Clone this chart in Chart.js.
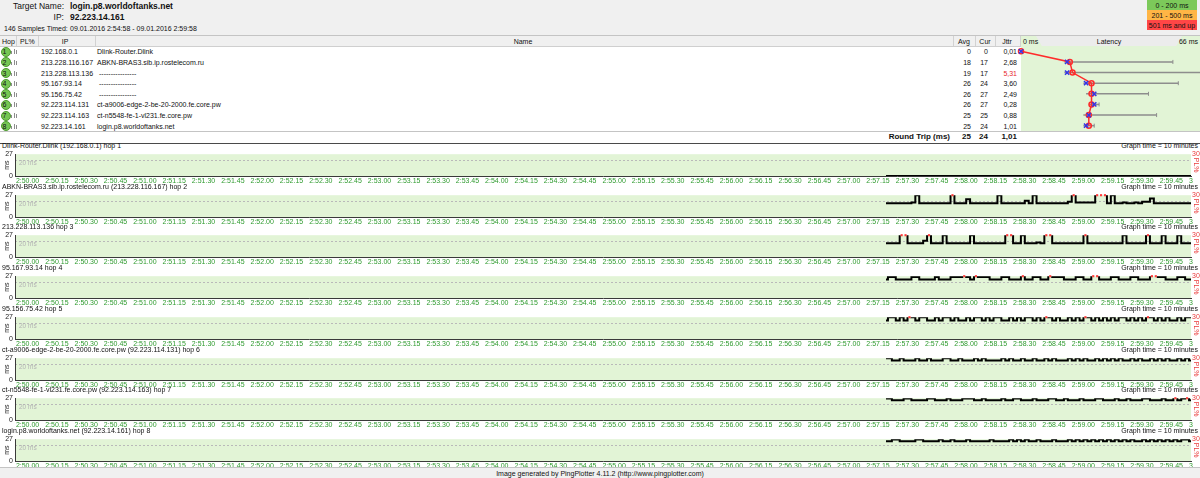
<!DOCTYPE html>
<html>
<head>
<meta charset="utf-8">
<title>PingPlotter - login.p8.worldoftanks.net</title>
<script src="https://cdn.jsdelivr.net/npm/chart.js@4.4.1/dist/chart.umd.min.js"></script>
<style>
  body { margin: 0; background: #fff; font-family: "Liberation Sans", Arial, sans-serif; color: #111; }
  #page { position: relative; width: 1200px; height: 478px; overflow: hidden; background: #fff; }
  .t { position: absolute; white-space: nowrap; line-height: 1; }
  .box { position: absolute; }
  canvas { position: absolute; }
</style>
</head>
<body>
<div id="page"></div>
<script>
// trace table
const hopNums = [1, 2, 3, 4, 5, 6, 7, 8];
const ips = ['192.168.0.1', '213.228.116.167', '213.228.113.136', '95.167.93.14', '95.156.75.42', '92.223.114.131', '92.223.114.163', '92.223.14.161'];
const names = ['Dlink-Router.Dlink', 'ABKN-BRAS3.sib.ip.rostelecom.ru', '----------------', '----------------', '----------------', 'ct-a9006-edge-2-be-20-2000.fe.core.pw', 'ct-n5548-fe-1-vl231.fe.core.pw', 'login.p8.worldoftanks.net'];
const avgMs = [0, 18, 19, 26, 26, 26, 25, 25];
const curMs = [0, 17, 17, 24, 27, 27, 25, 24];
const jitterMs = ['0,01', '2,68', '5,31', '3,60', '2,49', '0,28', '0,88', '1,01'];
const minMs = [0, 16, 16, 23, 24, 25, 23, 23];
const maxMs = [0, 56, 70, 58, 47, 28.8, 50, 27];
const roundTrip = ['25', '24', '1,01'];

// time graphs: one sample every 2 s, starting 443 s after 2:50:00
const sampleStart = 443;
const sampleStep = 2;
const tickStep = 15;
const xTickLabels = ['2:50.00','2:50.15','2:50.30','2:50.45','2:51.00','2:51.15','2:51.30','2:51.45','2:52.00','2:52.15',
  '2:52.30','2:52.45','2:53.00','2:53.15','2:53.30','2:53.45','2:54.00','2:54.15','2:54.30','2:54.45',
  '2:55.00','2:55.15','2:55.30','2:55.45','2:56.00','2:56.15','2:56.30','2:56.45','2:57.00','2:57.15',
  '2:57.30','2:57.45','2:58.00','2:58.15','2:58.30','2:58.45','2:59.00','2:59.15','2:59.30','2:59.45','3'];

const hop1Ms = [0,0,0,0,0,0,0,0,0,0, 0,0,0,0,0,0,0,0,0,0, 0,0,0,0,0,0,0,0,0,0, 0,0,0,0,0,0,0,0,0,0,
  0,0,0,0,0,0,0,0,0,0, 0,0,0,0,0,0,0,0,0,0, 0,0,0,0,0,0,0,0,0,0, 0,0,0,0,0,0,0,0,0];
const hop2Ms = [17,17,17,17,17,17,17,18,27,17, 17,17,17,17,17,17,17,40,17,17, 17,22,17,17,17,17,17,17,17,27,
  17,17,17,17,17,17,20,17,27,17, 17,17,17,17,17,17,17,19,56,18, 18,18,18,18,35,38,33,17,27,17,
  17,18,17,17,18,17,19,19,23,17, 17,17,17,17,17,17,17,17,17];
const hop3Ms = [17,17,17,17,45,45,17,17,17,17, 20,50,17,17,17,27,17,17,17,17, 17,17,27,17,17,17,17,17,17,17,
  17,40,66,17,17,27,17,17,17,18, 17,38,38,17,17,17,17,17,17,17, 17,70,17,17,17,17,17,17,17,17,
  17,27,17,17,17,17,17,30,17,17, 17,27,17,17,17,27,17,17,17];
const hop4Ms = [23,26,26,23,23,23,23,26,26,23, 23,23,23,26,23,23,23,26,26,26, 34,26,23,40,26,26,26,23,23,23,
  26,26,23,23,23,58,23,23,26,26, 23,23,31,26,26,26,23,23,23,26, 26,23,23,45,30,23,23,23,26,26,
  23,23,23,26,26,23,23,23,33,36, 26,26,23,23,23,26,26,23,23];
const hop5Ms = [23,27,27,23,27,23,36,27,23,27, 27,23,23,27,23,27,27,23,27,23, 23,27,23,27,27,23,27,23,27,27,
  23,23,27,23,27,23,27,27,23,27, 23,33,27,23,27,23,23,27,23,27, 23,40,27,23,27,23,27,23,27,23,
  27,27,23,27,23,27,23,31,27,23, 27,23,27,23,23,27,23,27,27];
const hop6Ms = [26.8,26.8,24.3,24.3,26.8,24.3,24.3,24.3,26.8,24.3, 24.3,26.8,24.3,24.3,24.3,26.8,26.8,24.3,24.3,26.8,
  24.3,24.3,24.3,26.8,24.3,26.8,24.3,24.3,24.3,24.3, 26.8,24.3,26.8,24.3,24.3,26.8,24.3,24.3,26.8,24.3,
  24.3,26.8,24.3,26.8,24.3,24.3,24.3,26.8,24.3,26.8, 24.3,26.8,24.3,24.3,26.8,24.3,26.8,24.3,26.8,24.3,
  26.8,24.3,24.3,26.8,24.3,26.8,24.3,24.3,26.8,24.3, 26.8,24.3,26.8,24.3,24.3,26.8,24.3,26.8,24.3];
const hop7Ms = [26.5,26.5,24.5,24.5,24.5,26.5,26.5,24.5,24.5,24.5, 24.5,26.5,26.5,24.5,24.5,24.5,26.5,24.5,24.5,24.5,
  26.5,26.5,26.5,24.5,24.5,26.5,24.5,24.5,24.5,24.5, 26.5,24.5,24.5,26.5,26.5,24.5,24.5,24.5,26.5,24.5,
  24.5,24.5,26.5,26.5,24.5,24.5,26.5,24.5,24.5,24.5, 26.5,24.5,24.5,24.5,26.5,26.5,24.5,24.5,24.5,26.5,
  24.5,24.5,26.5,24.5,24.5,24.5,26.5,26.5,24.5,24.5, 24.5,26.5,24.5,24.5,50,24.5,26.5,34,24.5];
const hop8Ms = [24.5,24.5,26.5,26.5,24.5,24.5,24.5,24.5,26.5,26.5, 24.5,24.5,24.5,24.5,26.5,24.5,24.5,26.5,24.5,24.5,
  24.5,26.5,24.5,24.5,24.5,24.5,24.5,26.5,24.5,24.5, 24.5,24.5,26.5,24.5,26.5,24.5,26.5,24.5,24.5,26.5,
  24.5,24.5,24.5,26.5,24.5,24.5,24.5,26.5,24.5,26.5, 24.5,26.5,24.5,26.5,24.5,26.5,24.5,26.5,24.5,26.5,
  24.5,26.5,24.5,26.5,24.5,24.5,26.5,24.5,26.5,24.5, 26.5,24.5,26.5,24.5,26.5,24.5,26.5,26.5,24.5];
const hopSeries = [hop1Ms, hop2Ms, hop3Ms, hop4Ms, hop5Ms, hop6Ms, hop7Ms, hop8Ms];
const msTop = 27;
const refMs = 20;

const plotGreen = '#e2f4d6';

Chart.defaults.font.family = '"Liberation Sans", Arial, sans-serif';
Chart.defaults.font.size = 7;
Chart.defaults.color = '#222';

const page = document.getElementById('page');

function box(x, y, w, h, css) {
	const d = document.createElement('div');
	d.className = 'box';
	d.style.cssText = `left:${x}px;top:${y}px;width:${w}px;height:${h}px;` + (css || '');
	page.appendChild(d);
	return d;
}

// y is the vertical centre of the text
function label(str, x, y, size, opts = {}) {
	const d = document.createElement('div');
	d.className = 't';
	d.textContent = str;
	d.style.fontSize = size + 'px';
	d.style.left = x + 'px';
	d.style.top = y + 'px';
	let tx = '0';
	if (opts.align === 'right') tx = '-100%';
	else if (opts.align === 'center') tx = '-50%';
	d.style.transform = `translate(${tx},-50%)`;
	if (opts.bold) d.style.fontWeight = 'bold';
	d.style.color = opts.color || '#111';
	page.appendChild(d);
	return d;
}

// header
box(0, 0, 1200, 35, 'background:#f0f0f0;border-bottom:1px solid #c4c4c4;');
label('Target Name:', 64, 6, 8.5, {align: 'right'});
label(names[7], 70, 6, 8.5, {bold: true});
label('IP:', 64, 17, 8.5, {align: 'right'});
label(ips[7], 70, 17, 8.5, {bold: true});
label('146 Samples Timed:', 4, 27.5, 7);
label('09.01.2016 2:54:58 - 09.01.2016 2:59:58', 70, 27.5, 7);

box(1147, 0, 50, 10, 'background:#7cc95a;');
box(1147, 10, 50, 10, 'background:#ffb545;');
box(1147, 20, 50, 10, 'background:#ff4646;');
label('0 - 200 ms', 1172, 5, 7, {align: 'center'});
label('201 - 500 ms', 1172, 15, 7, {align: 'center'});
label('501 ms and up', 1172, 25, 7, {align: 'center'});

// table header
box(0, 36, 1200, 10, 'background:#f0f0f0;border-bottom:1px solid #cfcfcf;');
[16, 38, 95, 953, 975, 995, 1020].forEach(x => box(x, 36, 1, 10, 'background:#d2d2d2;'));
label('Hop', 2, 41, 7);
label('PL%', 20, 41, 7);
label('IP', 65, 41, 7, {align: 'center'});
label('Name', 523, 41, 7, {align: 'center'});
label('Avg', 964, 41, 7, {align: 'center'});
label('Cur', 985, 41, 7, {align: 'center'});
label('Jttr', 1007, 41, 7, {align: 'center'});
box(1021, 36, 179, 10, 'background:' + plotGreen + ';');
box(1036, 36, 146, 10, 'background:#ececec;clip-path:polygon(0 0,100% 0,96% 100%,4% 100%);');
label('0 ms', 1023, 41, 7);
label('Latency', 1109, 41, 7, {align: 'center'});
label('66 ms', 1198, 41, 7, {align: 'right'});

// table rows
const rowTop = 46;
const rowH = 10.625;
box(1021, rowTop, 179, 85, 'background:' + plotGreen + ';');
hopNums.forEach((n, i) => {
	const y = rowTop + rowH * (i + 0.5);
	box(0.5, y - 4.5, 8, 8, 'border-radius:50%;background:#76c653;border:0.5px solid #4e9a30;');
	label(String(n), 4.5, y, 7, {align: 'center'});
	[[11, 3], [13.5, 5], [16, 4]].forEach(([bx, bh]) => box(bx, y + 3 - bh, 1.3, bh, 'background:#8c8c8c;'));
	label(ips[i], 41, y, 7);
	label(names[i], names[i].startsWith('-') ? 99 : 97, y, 7);
	label(String(avgMs[i]), 971, y, 7, {align: 'right'});
	label(String(curMs[i]), 988, y, 7, {align: 'right'});
	label(jitterMs[i], 1017, y, 7, {align: 'right', color: i === 2 ? '#e8262b' : '#111'});
});

// round trip
box(0, 131, 1200, 11, 'border-top:1px solid #c4c4c4;border-bottom:1px solid #4a4a4a;background:#fff;');
label('Round Trip (ms)', 950, 137, 8, {align: 'right', bold: true});
label(roundTrip[0], 971, 137, 8, {align: 'right', bold: true});
label(roundTrip[1], 988, 137, 8, {align: 'right', bold: true});
label(roundTrip[2], 1017, 137, 8, {align: 'right', bold: true});

// latency chart
const latCv = document.createElement('canvas');
latCv.width = 184; latCv.height = 85;
latCv.style.left = '1016px'; latCv.style.top = rowTop + 'px';
page.appendChild(latCv);

const rangeSets = hopNums.filter((n, i) => maxMs[i] > minMs[i]).map(n => {
	const i = n - 1;
	return {
		data: [{x: minMs[i], y: n}, {x: maxMs[i], y: n}],
		borderColor: '#8d8d8d',
		borderWidth: 1.5,
		pointStyle: 'line',
		pointRotation: 90,
		pointRadius: [0, 2],
		pointBorderColor: '#8d8d8d',
		pointBorderWidth: 1,
		order: 3,
		clip: false
	};
});

new Chart(latCv, {
	type: 'line',
	data: {
		datasets: [
			...rangeSets,
			{
				data: avgMs.map((v, i) => ({x: v, y: hopNums[i]})),
				borderColor: '#ff2b2b',
				borderWidth: 1.5,
				pointRadius: 2.5,
				pointBackgroundColor: 'rgba(0,0,0,0)',
				pointBorderColor: '#ff2b2b',
				pointBorderWidth: 1.5,
				order: 2,
				clip: false
			},
			{
				data: curMs.map((v, i) => ({x: v, y: hopNums[i]})),
				showLine: false,
				pointStyle: 'crossRot',
				pointRadius: 3,
				pointBorderColor: '#3535e6',
				pointBorderWidth: 1.5,
				order: 1,
				clip: false
			}
		]
	},
	options: {
		animation: false,
		responsive: false,
		events: [],
		layout: {padding: {left: 5, right: 0, top: 0, bottom: 0}, autoPadding: false},
		plugins: {legend: {display: false}, tooltip: {enabled: false}},
		scales: {
			x: {type: 'linear', min: 0, max: 66, display: false},
			y: {type: 'linear', min: 0.5, max: 8.5, reverse: true, display: false}
		}
	}
});

// green plot area, dashed 20 ms line
const panelBg = {
	id: 'panelBg',
	beforeDraw(chart, args, opts) {
		const {ctx, chartArea: a, scales} = chart;
		ctx.save();
		ctx.fillStyle = opts.color;
		ctx.fillRect(a.left, a.top, a.right - a.left, a.bottom - a.top);
		const y = Math.round(scales.y.getPixelForValue(opts.refMs)) + 0.5;
		ctx.strokeStyle = '#b9b9b9';
		ctx.lineWidth = 1;
		ctx.setLineDash([2, 2]);
		ctx.beginPath();
		ctx.moveTo(a.left, y);
		ctx.lineTo(a.right, y);
		ctx.stroke();
		ctx.setLineDash([]);
		ctx.fillStyle = '#b4b4b4';
		ctx.font = '6.5px "Liberation Sans", Arial, sans-serif';
		ctx.textBaseline = 'middle';
		ctx.fillText(opts.refMs + ' ms', a.left + 4, y + 2.5);
		ctx.restore();
	}
};

const panelTop0 = 145;
const panelStep = 40.7;

hopSeries.forEach((vals, k) => {
	const t = panelTop0 + k * panelStep;
	const title = (names[k].startsWith('-') ? ips[k] : names[k] + ' (' + ips[k] + ')') + ' hop ' + hopNums[k];
	label(title, 2, t, 7);
	label('Graph time = 10 minutes', 1198, t, 7, {align: 'right'});

	const cv = document.createElement('canvas');
	cv.width = 1200; cv.height = 38;
	cv.style.left = '0px'; cv.style.top = Math.round(t + 3) + 'px';
	page.appendChild(cv);

	const times = vals.map((v, i) => sampleStart + i * sampleStep);

	new Chart(cv, {
		type: 'line',
		data: {
			datasets: [
				{
					data: vals.map((v, i) => ({x: times[i], y: v})),
					borderColor: '#000',
					borderWidth: 2,
					stepped: 'middle',
					pointRadius: 0,
					order: 2
				},
				{
					// samples above the top of the scale get a red tip
					data: vals.map((v, i) => ({x: times[i], y: v > msTop ? msTop : null})),
					showLine: false,
					pointStyle: 'rect',
					pointRadius: 1.5,
					pointBackgroundColor: '#ff3b3b',
					pointBorderWidth: 0,
					order: 1,
					clip: false
				}
			]
		},
		options: {
			animation: false,
			responsive: false,
			events: [],
			layout: {padding: {top: 3, left: 0, right: 0, bottom: 0}, autoPadding: false},
			plugins: {
				legend: {display: false},
				tooltip: {enabled: false},
				panelBg: {color: plotGreen, refMs: refMs}
			},
			scales: {
				x: {
					type: 'linear', min: -2.5, max: 599,
					grid: {display: false, drawTicks: false},
					border: {color: '#3a3a3a', width: 1},
					afterBuildTicks: s => { s.ticks = xTickLabels.map((l, i) => ({value: i * tickStep})); },
					afterFit: s => { s.height = 10; },
					ticks: {
						autoSkip: false, maxRotation: 0, minRotation: 0,
						align: 'start', labelOffset: -4, padding: 1,
						color: '#2f9b2f', font: {size: 7},
						callback: (v, i) => xTickLabels[i]
					}
				},
				y: {
					type: 'linear', position: 'left', min: 0, max: msTop,
					grid: {display: false, drawTicks: false},
					border: {color: '#3a3a3a', width: 1},
					afterBuildTicks: s => { s.ticks = [{value: 0}, {value: msTop}]; },
					afterFit: s => { s.width = 15; },
					ticks: {color: '#222', font: {size: 7}, padding: 2},
					title: {display: true, text: 'ms', color: '#222', font: {size: 7}, padding: {top: 3, bottom: 0}}
				},
				y1: {
					type: 'linear', position: 'right', min: 0, max: 30,
					grid: {display: false, drawTicks: false},
					border: {display: false},
					afterBuildTicks: s => { s.ticks = [{value: 30}]; },
					afterFit: s => { s.width = 9; },
					ticks: {color: '#ea3b3b', font: {size: 7}, padding: 1},
					title: {display: true, text: 'PL%', color: '#ea3b3b', font: {size: 7}, padding: {top: 0, bottom: 0}}
				}
			}
		},
		plugins: [panelBg]
	});
});

// footer
box(0, 467, 1200, 11, 'background:#f0f0f0;border-top:1px solid #c4c4c4;');
label('Image generated by PingPlotter 4.11.2 (http://www.pingplotter.com)', 600, 473, 7, {align: 'center'});
</script>
</body>
</html>
